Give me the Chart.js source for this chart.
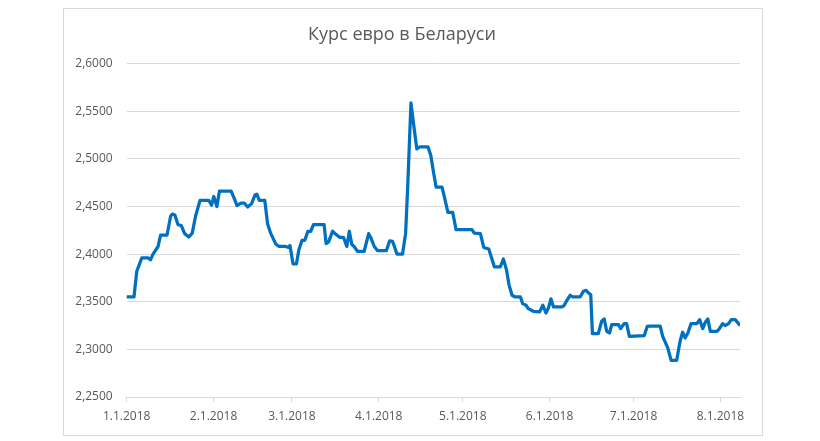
<!DOCTYPE html>
<html>
<head>
<meta charset="utf-8">
<script src="https://cdn.jsdelivr.net/npm/chart.js@4/dist/chart.umd.min.js"></script>
<style>
  html, body { margin: 0; padding: 0; background: #fff; }
  #wrap { width: 820px; height: 441px; }
</style>
</head>
<body>
<div id="wrap"><canvas id="kurs" width="820" height="441"></canvas></div>
<script>
// ---- data (day 0 = 1 Jan 2018) ----
const days = [
  0, 2.6, 3.6, 5.4, 7.7, 8.5, 9.4, 11.2, 12.1, 14.4, 15.7, 16.3, 17.2, 18.3, 19.5, 20.7, 22.2, 23.4, 24.6, 26.2,
  29.3, 30.3, 31.1, 32.2, 33.1, 37.3, 38.1, 39.4, 40.8, 42.0, 43.2, 44.6, 45.8, 46.5, 47.3, 49.3, 50.3, 51.4, 53.2, 54.4,
  56.8, 57.8, 58.3, 59.4, 60.6, 61.5, 62.6, 63.6, 64.7, 65.7, 66.7, 70.5, 71.2, 72.1, 73.5, 74.8, 76.0, 77.4, 78.6, 79.5,
  80.4, 81.2, 82.4, 84.8, 86.4, 87.2, 88.4, 89.6, 92.7, 93.9, 94.9, 95.6, 96.5, 98.5, 99.6, 100.3, 101.5, 102.7, 103.6, 104.6,
  107.6, 108.6, 109.6, 110.5, 112.6, 113.4, 114.7, 116.4, 117.6, 123.3, 124.1, 126.3, 127.5, 129.3, 131.3, 133.4, 134.5, 135.6, 136.5, 137.6,
  138.7, 140.6, 141.4, 142.6, 143.4, 145.2, 147.4, 148.6, 149.7, 150.6, 151.5, 152.4, 155.4, 156.2, 157.2, 158.4, 159.3, 161.9, 163.1, 164.0,
  164.9, 165.7, 166.3, 168.4, 169.6, 170.5, 171.4, 172.4, 173.2, 175.6, 176.4, 177.6, 178.5, 179.5, 184.8, 185.9, 186.7, 190.5, 191.4, 193.2,
  194.4, 196.4, 197.6, 198.5, 199.4, 200.4, 201.5, 203.6, 204.6, 205.7, 206.6, 207.5, 208.4, 210.8, 211.6, 212.8, 213.7, 214.9, 215.9, 217.3,
  218.8
];
const rates = [
  2.355, 2.355, 2.382, 2.396, 2.396, 2.394, 2.400, 2.408, 2.420, 2.420, 2.440, 2.442, 2.441, 2.431, 2.430, 2.4215, 2.418, 2.422, 2.440, 2.4565,
  2.4565, 2.4515, 2.4605, 2.450, 2.466, 2.466, 2.4605, 2.451, 2.4535, 2.4535, 2.4495, 2.453, 2.462, 2.4628, 2.4565, 2.4565, 2.432, 2.422, 2.4107, 2.408,
  2.408, 2.407, 2.409, 2.3897, 2.3897, 2.4047, 2.4145, 2.4145, 2.424, 2.424, 2.431, 2.431, 2.411, 2.4128, 2.424, 2.4205, 2.4177, 2.4177, 2.408, 2.424,
  2.410, 2.408, 2.403, 2.403, 2.4215, 2.417, 2.408, 2.4036, 2.4036, 2.414, 2.4135, 2.408, 2.400, 2.400, 2.422, 2.4677, 2.5587, 2.5307, 2.5104, 2.5125,
  2.5125, 2.5034, 2.4852, 2.4702, 2.4702, 2.4607, 2.4439, 2.4439, 2.4257, 2.4257, 2.422, 2.4215, 2.407, 2.4054, 2.3865, 2.3865, 2.3949, 2.3837, 2.368, 2.3568,
  2.355, 2.355, 2.348, 2.3463, 2.3428, 2.340, 2.3393, 2.3463, 2.3382, 2.3435, 2.353, 2.3445, 2.3445, 2.346, 2.3515, 2.3568, 2.355, 2.355, 2.361, 2.362,
  2.3592, 2.3575, 2.3165, 2.3165, 2.3295, 2.332, 2.319, 2.3172, 2.326, 2.326, 2.3218, 2.327, 2.327, 2.3137, 2.3144, 2.3242, 2.3245, 2.3245, 2.3137, 2.3015,
  2.2885, 2.2885, 2.3085, 2.318, 2.312, 2.3172, 2.327, 2.327, 2.3312, 2.3218, 2.3284, 2.332, 2.319, 2.319, 2.3214, 2.327, 2.325, 2.327, 2.3312, 2.3312,
  2.326
];
const monthStarts = [0, 31, 59, 90, 120, 151, 181, 212];
const monthLabels = ["1.1.2018", "2.1.2018", "3.1.2018", "4.1.2018", "5.1.2018", "6.1.2018", "7.1.2018", "8.1.2018"];

const FONT = "'Open Sans', 'Noto Sans', sans-serif";
const GRAY = "#595959";
const GRID = "#d9d9d9";

// рамка вокруг диаграммы как в Excel
const frame = {
  id: "frame",
  beforeDraw(chart) {
    const c = chart.ctx;
    c.save();
    c.fillStyle = "#fff";
    c.fillRect(0, 0, chart.width, chart.height);
    c.strokeStyle = GRID;
    c.lineWidth = 1;
    c.strokeRect(63.5, 8.5, 699, 427);
    c.restore();
  }
};

const pts = days.map((d, i) => ({ x: d, y: rates[i] }));

new Chart(document.getElementById("kurs"), {
  type: "line",
  data: {
    datasets: [{
      data: pts,
      borderColor: "#0070C0",
      borderWidth: 3.25,
      borderJoinStyle: "round",
      borderCapStyle: "round",
      pointRadius: 0,
      tension: 0,
      fill: false
    }]
  },
  options: {
    responsive: false,
    animation: false,
    layout: { padding: { left: 64, right: 80, top: 0, bottom: 14 } },
    plugins: {
      legend: { display: false },
      tooltip: { enabled: false },
      title: {
        display: true,
        text: "Курс евро в Беларуси",
        color: GRAY,
        font: { family: FONT, size: 18, weight: "normal" },
        padding: { top: 24, bottom: 18 }
      }
    },
    scales: {
      x: {
        type: "linear",
        min: 0,
        max: 219,
        afterBuildTicks: (s) => { s.ticks = monthStarts.map(v => ({ value: v })); },
        afterFit: (s) => { s.height = 30; },
        grid: { drawOnChartArea: false, drawTicks: true, tickLength: 5, color: GRID },
        border: { display: true, color: GRID },
        ticks: {
          autoSkip: false,
          maxRotation: 0,
          padding: 7,
          color: GRAY,
          font: { family: FONT, size: 12 },
          callback: (v) => monthLabels[monthStarts.indexOf(v)]
        }
      },
      y: {
        min: 2.25,
        max: 2.6,
        afterFit: (s) => { s.width = 62.7; },
        grid: { color: GRID, drawTicks: false },
        border: { display: false },
        ticks: {
          stepSize: 0.05,
          padding: 14,
          color: GRAY,
          font: { family: FONT, size: 12 },
          callback: (v) => v.toFixed(4).replace(".", ",")
        }
      }
    }
  },
  plugins: [frame]
});
</script>
</body>
</html>
